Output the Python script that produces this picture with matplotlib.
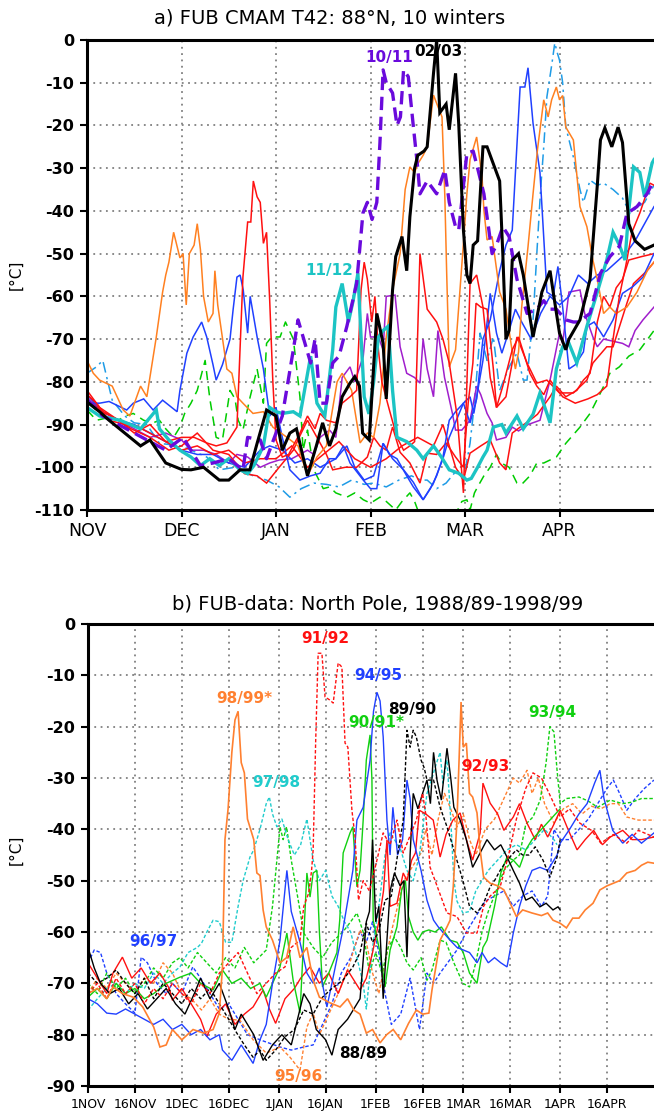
import matplotlib
matplotlib.use("Agg")
import matplotlib.pyplot as plt

# ================== 配置区 ==================
W, H = 654, 1114
plt.rcParams['font.family'] = ['DejaVu Sans']

GRID_KW = dict(color='#808080', linestyle=(0, (1, 2.5)), linewidth=1.3)

# ---------- panel a: CMAM model, day since 1 Nov (360-day calendar) ----------
a_months = ["NOV", "DEC", "JAN", "FEB", "MAR", "APR"]
a_month_days = [0, 30, 60, 90, 120, 150]

a_0203 = [(0, -84.7), (4, -87), (7, -89), (12, -92), (17, -95), (20, -93.6), (25, -99), (30, -100.5),
          (33, -100.6), (37, -100), (42, -103), (45, -103), (48.6, -100.6), (51.7, -100.6), (54, -94.4),
          (57, -86.6), (60, -88), (62, -96), (64.4, -92), (66.5, -91), (70, -102), (72.8, -95),
          (74.8, -89.6), (77, -95), (79, -91), (81, -83.5), (83.5, -80.3), (85, -78.8), (86.5, -81),
          (87.5, -92), (89.6, -93.6), (92, -64), (94, -71), (95, -84), (97, -58.5), (98, -50.7),
          (100, -46), (101.5, -54), (102.5, -41.4), (104, -30), (105, -27), (107, -26), (108, -25),
          (110, -7.8), (111, 0), (112, -17), (114, -15), (115, -21), (117, -7.8), (118, -19.5),
          (119.5, -44.5), (120.6, -55), (121.6, -57), (122.6, -48), (124, -47), (125.7, -25),
          (127, -25), (129, -29), (131, -33), (132, -50), (133, -70), (134, -68), (135, -51.5),
          (137, -50), (138.5, -55), (141.6, -69.5), (144.4, -59), (147, -54), (148, -59),
          (150, -68.6), (152, -72.5), (153, -70), (156.5, -65.5), (159.7, -56), (162, -34),
          (163, -23.4), (164.4, -20.6), (166.6, -25), (168.6, -20.4), (170, -24), (172, -43),
          (174, -47), (177, -49), (180, -48)]

a_1011 = [(0, -84), (5, -88), (10, -90), (15, -92), (20, -94), (25, -96), (30.5, -93), (33, -96),
          (36, -99.6), (40, -99), (45, -98), (49.5, -100.6), (51, -93), (55, -93.6), (57, -98),
          (62, -88), (65.5, -72.5), (67, -65.5), (68.6, -69.5), (71, -75.6), (72.4, -70), (74, -85),
          (76, -85), (78, -75.6), (80, -74), (82.5, -67), (85.6, -57), (87.6, -40.5), (89, -38),
          (90.5, -42), (92, -38), (93, -24), (94, -7), (95, -10), (97, -12.4), (98.4, -20),
          (99.5, -18), (100.5, -7), (102, -8.6), (103.5, -19.5), (105, -30), (105.7, -36),
          (108, -33), (111, -36), (113.6, -30.4), (115, -38), (117, -43.7), (118, -44.5),
          (120.6, -26.5), (122.6, -26), (124, -30), (126, -36), (128.6, -50), (130, -48),
          (132, -43.7), (134, -46), (136.5, -56), (139.7, -64), (142.8, -63), (145, -61),
          (147, -63), (149, -63), (152, -65.5), (154.4, -66), (156, -66), (159.7, -64),
          (163, -54.6), (166, -50.7), (169, -48.3), (171.4, -40.6), (174.6, -39), (177.8, -36),
          (180, -32.8)]

a_1112 = [(0, -86), (4, -88), (10.5, -89), (17, -91), (22, -86.6), (23, -91), (26, -93.6),
          (29.5, -96), (33, -97.6), (36, -99.6), (39, -98), (42, -99.6), (45, -98), (48.6, -100.6),
          (51, -101.5), (53, -99.6), (56, -95), (58, -86), (60, -87), (62, -87.4), (65.5, -87),
          (67.6, -88), (71, -74), (73, -85), (75.5, -88), (78, -72.5), (79, -62.5), (81, -57),
          (83, -66), (84.5, -61), (86, -54.6), (87, -69.5), (88, -83.5), (89.5, -87.5), (91, -80),
          (92.5, -69.5), (94, -68), (95.6, -67), (97, -82), (98.4, -93), (101.5, -94),
          (104.7, -96), (106.7, -98), (110, -95), (112.5, -97.6), (115, -100.6), (118, -101.4),
          (120.6, -103), (122, -102.6), (124, -100), (125.7, -97.6), (127, -96), (129, -90.6),
          (131.7, -90), (133, -92), (136.5, -88), (138.5, -91), (141.6, -87.6), (143.8, -82.6),
          (147, -89.6), (149, -77), (151, -71.8), (153, -71), (155.5, -75.6), (158.7, -67),
          (162, -59), (165, -51.5), (167, -45), (169, -48), (170.8, -51.5), (172, -39.8),
          (173.5, -29.7), (175.5, -31), (177, -36.7), (179.4, -28.8), (180, -28)]

a_orange = [(0, -75), (2, -78), (4, -79.6), (8, -81), (11.5, -86.6), (13.6, -88), (17, -81),
            (19, -83.5), (22, -69.5), (24, -59), (25, -55), (26, -52), (27.5, -45), (29.5, -51),
            (30.5, -50), (31.5, -62), (32.5, -50), (34, -48), (35, -43), (36, -49), (37, -60),
            (38.5, -66), (40, -64), (40.6, -54), (41.5, -62), (44.4, -77), (46, -78), (47.6, -83.5),
            (49.5, -85), (52.7, -87.4), (56, -87), (59, -90.6), (63.5, -93), (67, -95), (70, -102),
            (73, -97.6), (76, -95), (79.4, -80), (81, -78), (82.5, -80), (84, -82), (86.7, -94.3),
            (89, -92), (91, -93), (93, -85), (95, -69.5), (97, -58.5), (99.4, -50), (101, -35),
            (102.5, -29.7), (104, -31), (105, -29), (106.7, -27), (108, -25), (110, -12.9),
            (111.4, -15.6), (112.7, -18), (113.6, -36.7), (114.2, -55), (115, -76.5), (117, -72.5),
            (119.5, -47.6), (120.6, -36), (121.6, -28), (123.7, -22.7), (125.4, -32), (126, -39.8),
            (127, -46.8), (128.6, -46), (131, -59), (133, -63), (135, -73), (136, -77), (137, -73),
            (138, -62.5), (140, -48.4), (141.6, -36), (143, -25.7), (145, -14), (146.4, -18),
            (147.5, -14), (149, -11), (150, -14), (151, -13), (152, -20.4), (154.4, -23.4),
            (156.5, -39), (158.7, -43.7), (160.6, -51.5), (162, -56), (164, -64), (166, -62.5),
            (168, -64), (171.4, -62.5), (174.6, -59), (178, -53.8), (180, -52)]

a_red1 = [(0, -83), (3, -85), (7, -89), (12, -90), (16, -90.5), (20, -92), (25, -94), (30, -93),
          (34, -93), (38, -94.3), (41, -95), (44.4, -94.3), (47.6, -90.6), (49.5, -55.5),
          (51, -42.6), (52, -42.6), (52.8, -33), (54, -36.7), (55, -38), (56, -47.6), (57, -45),
          (58, -61), (59, -80), (60, -93.6), (62, -97.6), (64, -97), (67.6, -92), (70, -88),
          (72.4, -91), (74, -87.4), (76, -89), (79, -89.6), (81, -85), (83.5, -83.5), (85.6, -82),
          (87, -58.5), (88, -52), (89, -56), (90.4, -66), (91.4, -60), (92.5, -72.5), (93.6, -80),
          (96, -86.6), (98.4, -93), (100.5, -96), (102.5, -95), (104, -94), (105.7, -50),
          (108, -63), (111, -66), (113, -70), (115, -75.6), (117.5, -88), (119.5, -106),
          (121.6, -57), (123.7, -55), (125.7, -62.5), (128, -79), (130, -86), (132, -81),
          (135, -72.5), (137, -69.5), (138.5, -73), (140.6, -78), (142.8, -81), (145, -83),
          (147, -79.6), (151, -83.5), (155, -85), (159, -84), (162, -83), (165, -81), (167, -70),
          (169, -60), (171, -53), (173, -45), (175.5, -40.5), (178.7, -33.5), (180, -34)]

a_red2 = [(0, -82), (4, -86), (8, -88), (14, -91), (20, -93), (26, -96), (30, -95), (35, -92),
          (40, -96), (45, -97), (50, -101.5), (54, -102), (57, -103.7), (61, -100), (65.5, -96),
          (68, -92), (70, -89), (73, -93), (76, -97), (78, -100.6), (82, -100), (85.6, -100),
          (89, -97.6), (91, -93), (93, -95), (95, -96), (97, -90.6), (99.4, -96.5), (102.5, -99),
          (105.7, -103.7), (108, -96.7), (111, -97), (114, -94.3), (117, -97.6), (119.5, -100),
          (121, -85), (122.5, -75.6), (123.5, -61.6), (125, -62.5), (127, -63), (129, -77),
          (130, -86), (133, -83.5), (136.5, -69.5), (139.7, -75.6), (142.8, -80.3), (146, -79.6),
          (150, -82.6), (154.4, -82.6), (158.7, -79.6), (160.6, -75.6), (165, -71.8), (167, -71.8),
          (171.4, -61.6), (173.5, -57), (177.8, -54), (180, -52)]

a_red3 = [(0, -84), (5, -87), (10, -89), (15, -92), (20, -90), (25, -94), (30, -96), (35, -95),
          (40, -97), (45, -96), (50, -99), (55, -98), (60, -98), (65, -95), (70, -100), (75, -97),
          (80, -94), (85, -98), (90, -100), (95, -98), (100, -95), (105, -93), (110, -95),
          (113, -90), (117, -100), (119.5, -103), (121.6, -96.7), (125, -95), (128, -93.6),
          (131, -99), (133, -100.6), (135, -92), (137.5, -90.6), (140.6, -89), (143, -87.6),
          (147, -83.5), (149, -81), (152, -83.5), (155.5, -82), (157.6, -79.6), (159.7, -78),
          (162, -66), (164, -60), (166, -62.5), (168, -58), (170, -56), (172, -51.5),
          (176, -50.7), (180, -50)]

a_blue1 = [(0, -85), (4, -85), (7, -84.6), (12.6, -86.6), (14.7, -85), (18, -84), (21, -86.6),
           (24, -84.3), (28.6, -87), (29.5, -82), (31.7, -73.3), (33.7, -69.5), (36.4, -66),
           (38, -69.5), (40, -76), (41, -79.6), (43, -76), (45.4, -70), (46.4, -63), (47.6, -55.5),
           (48.6, -55), (49.6, -58.5), (51, -68.6), (51.8, -60), (54, -69.5), (56, -77), (58, -88),
           (60, -86), (62, -93), (64.4, -100.6), (67.6, -103), (71, -102), (74, -101.4), (77, -98),
           (79, -98), (81.4, -95), (83.5, -99), (87.7, -103), (90, -105), (92, -105), (94, -94.4),
           (96, -97), (98.4, -98), (101.5, -102), (103.6, -104.6), (106.7, -107.6), (109, -105),
           (111, -102), (113, -97.6), (115, -89), (117, -87), (119.5, -85), (121.6, -89.6),
           (123.7, -84), (125.7, -70), (128, -65.5), (131, -54), (133, -48), (135, -44.5),
           (137.5, -11), (139, -11), (140, -6.5), (141.6, -19.5), (143.8, -31), (146, -59),
           (148, -60), (149.5, -53), (151, -62.5), (153, -77), (155, -76), (157.6, -73),
           (158.7, -67), (161, -66), (164, -69.5), (167, -65.5), (170, -59.3), (173.3, -57.7),
           (176.5, -55.5), (180, -50)]

a_blue2 = [(0, -83), (5, -87), (10, -89), (15, -90), (20, -92), (25, -94), (30, -96), (35, -97),
           (40, -97), (45, -99), (50, -100), (55, -96), (58, -95), (62, -96), (66, -99), (70, -98),
           (74, -100), (79, -98), (82.5, -95), (85, -100), (88, -103), (91, -102), (94, -94.4),
           (97, -98), (100.5, -100.6), (103.6, -103.5), (106.7, -107.6), (110, -103.7), (113, -98),
           (115, -93), (119.5, -85), (121.6, -83.5), (122.8, -87.4), (125.7, -75), (128, -59.3),
           (130, -68.6), (131.7, -73.3), (134, -68), (136, -63), (138, -66), (141, -70), (144, -64),
           (147, -60), (150, -62), (153, -60), (156, -55), (159, -57), (162, -55), (165, -54),
           (168, -52), (171, -50), (174, -47), (177, -43), (180, -39)]

a_ltblue = [(0, -78), (3, -76.5), (5, -75), (8, -84.3), (12, -88), (15, -89.6), (19, -90),
            (23, -94.4), (30, -95), (38, -97.6), (42, -100.6), (47, -100), (52.8, -102), (57, -103),
            (61, -104.6), (64.4, -107), (68, -105), (72, -103.7), (76, -104), (80, -104.6),
            (84, -103), (88, -104), (91, -103.7), (95, -104.6), (99, -103), (103, -102), (106, -103),
            (108, -103), (111, -105), (114, -103.7), (117.5, -100.6), (119.5, -103), (121.6, -94.4),
            (123, -85), (124.8, -68.6), (127, -75), (129, -69.5), (131, -82), (134, -76.5),
            (136.5, -73.3), (138.5, -79.6), (139.7, -79.6), (140.6, -72), (141.6, -65.5),
            (142.8, -50), (144, -35), (145, -25), (146, -13.3), (147.6, -5.5), (148.5, -0.7),
            (149.3, -3), (150, -4.7), (151, -10), (152, -20.4), (154.4, -27.4), (156.5, -35),
            (157.6, -38), (159.7, -32.8), (162, -34), (164, -33.5), (167, -35), (170, -37),
            (172.4, -40.5), (175, -39), (177, -38), (180, -34)]

a_green = [(0, -86.6), (3, -89), (6, -88.5), (10, -89), (12, -88), (14.7, -87.4), (18, -89),
           (21, -89.6), (23, -89), (25, -91), (27.5, -93), (29.5, -90.6), (31, -87.4), (33, -85),
           (35, -82), (37.5, -75), (39, -84), (41, -93), (43, -93.6), (45.4, -82), (47, -84),
           (48, -89), (49.5, -91.3), (51.8, -83.5), (54, -77), (56, -85), (57, -71), (58.6, -69.5),
           (61.3, -69.5), (63, -66), (65.5, -70), (67.6, -83.5), (68.6, -96), (70, -91.3),
           (72, -100.6), (75, -105), (77, -104.6), (79, -106), (82.5, -107), (85, -106),
           (87.7, -107.6), (90, -108.4), (93, -107), (95, -108), (98, -110), (100, -108),
           (102.5, -106), (104, -108), (106, -112), (110, -115), (114, -113), (117, -111),
           (119, -108), (120.6, -107.6), (121.6, -110), (123, -106), (124, -104.6), (126, -102),
           (128, -100), (130, -97), (131.5, -99), (134, -100), (136.5, -103.7), (138, -104),
           (140.6, -102), (142.8, -99), (145, -99), (149, -97.6), (152, -94.4), (156.5, -90.6),
           (159.7, -87.4), (163, -82.6), (166, -78), (169, -76.5), (172, -74), (175.5, -72.5),
           (178, -70), (180, -68)]

a_violet = [(0, -83), (5, -87), (10, -89), (15, -91), (20, -93), (25, -92), (30, -93.6), (33, -96),
            (37, -96), (41, -97), (45, -99), (47.6, -97), (51, -97.6), (55, -100), (58, -99),
            (61, -98.3), (65, -98), (70, -96), (72, -97), (74, -93), (77, -91.3), (79, -93),
            (81, -79), (83.5, -76.5), (85, -80), (87.7, -74), (89, -64), (90, -69.5), (92.5, -69.5),
            (94, -72.5), (95, -60), (97.8, -59.7), (99.4, -71.8), (101.5, -78), (104, -79),
            (105.7, -80.3), (106.7, -70), (108, -77), (110, -83.5), (111.4, -68), (113.5, -79),
            (116, -87.4), (117, -91.3), (119, -91.3), (121.6, -89), (123.7, -81), (125, -83),
            (127, -87.4), (128.6, -89.6), (130, -93.6), (133, -93), (135, -90.6), (137, -91.5),
            (140, -90), (143.8, -89), (147, -79.6), (150, -68.6), (151, -71), (153, -59),
            (156.5, -58.5), (158, -64), (160.6, -69.5), (162, -71.8), (164, -70), (167, -70.5),
            (170, -71), (172, -71.8), (174, -68), (176.5, -65.5), (180, -62.5)]

# ---------- panel b: observations, day since 1 Nov ----------
b_tick_days = [0, 15, 30, 45, 61, 76, 92, 107, 120, 135, 151, 166]
b_tick_labels = ["1NOV", "16NOV", "1DEC", "16DEC", "1JAN", "16JAN", "1FEB", "16FEB",
                 "1MAR", "16MAR", "1APR", "16APR"]

b_8889 = [(0, -63), (2, -67), (4, -70), (7, -72), (10, -71), (13, -74), (16, -72), (19, -75),
          (22, -73), (25, -71), (28, -74), (31, -76), (34, -72), (36, -69), (39, -73), (42, -70),
          (45, -75), (47, -79), (49, -76), (51, -78), (53, -80), (56, -85), (59, -82), (62, -80),
          (65, -82), (67, -77), (69, -72), (71, -74), (73, -79), (76, -81), (78, -84), (80, -79),
          (83, -77), (85, -75), (87, -73), (89, -58), (90, -56), (91, -42), (92, -58), (93, -55),
          (94.4, -73), (96.6, -52), (98, -48.5), (99.8, -51), (101, -50), (102, -64.9), (103, -45),
          (104, -33), (105.5, -36), (107, -33), (108.4, -30.4), (109.5, -35), (110.5, -25),
          (111.6, -30.4), (113, -34.3), (114.8, -24.2), (116, -30), (117, -35.7), (119, -38.2),
          (121, -42), (123, -47.4), (125.4, -44.6), (127.6, -42), (130, -44), (132, -43),
          (134, -45.4), (136, -48), (138, -50.5), (140, -53.8), (142, -53.2), (144.5, -55.1),
          (146.5, -54.4), (148.7, -55.7), (150.3, -55.1), (151, -55.7)]

b_8990 = [(0, -68), (3, -70), (6, -69), (9, -67.4), (12, -70), (15, -72), (18, -69), (21, -73),
          (24, -70), (27, -72), (30, -74), (33, -71), (36, -73), (39, -71), (42, -74), (45, -77),
          (47.6, -79.7), (50, -82), (52.8, -84.4), (55, -83), (57, -85), (60, -83), (63, -80.4),
          (66, -79), (69, -75.2), (72, -76), (75, -72.7), (78, -71), (81.5, -69.4), (84.7, -66.8),
          (87, -64), (89, -58.3), (91, -62), (93, -60), (95, -53.8), (97, -53), (99, -45),
          (100.8, -38.2), (102, -20.7), (103, -24), (104, -20.7), (105, -22), (106.5, -26.5),
          (107.5, -28), (108.4, -30.4), (110.5, -30.4), (112.6, -35.7), (114.8, -39.5),
          (116.7, -43.4), (119.9, -50), (122, -55), (124.4, -56.3), (126.5, -54.4), (128.6, -51.2),
          (130, -50), (131.8, -48), (134, -46), (137, -44), (139, -45), (141, -45), (143, -43.4),
          (145.5, -46), (147.7, -49.3), (150, -45.4), (151, -42)]

b_9091 = [(0, -72.7), (3, -71), (6, -73), (9, -70), (12, -72), (15, -71), (18, -73), (21, -72),
          (25, -70), (29.4, -68.8), (33, -68), (36, -70), (40, -71.3), (43, -67.4), (46, -70),
          (49, -69), (52, -71), (55, -70), (57, -72.7), (61.4, -66.8), (63.6, -60.2), (65.6, -69.4),
          (67.8, -75.8), (70, -48.5), (71, -53.2), (72, -48.5), (73.2, -48), (74, -60), (75, -70.7),
          (77, -68), (79.6, -64), (80.5, -57.7), (81.6, -44.6), (83.8, -40.7), (84.7, -39.5),
          (86, -51.2), (87, -48), (88, -38.2), (89, -26.5), (90.2, -21.6), (90.8, -30.4),
          (91.2, -57.7), (93.4, -64), (95, -70.7), (96.6, -63.5), (98.8, -59), (100.3, -51.8),
          (101.5, -50), (102.5, -57), (104, -60), (105.5, -61.6), (107, -60), (109, -59.6),
          (111, -60), (113, -59), (115.8, -61.6), (118, -62), (120, -64), (122, -68), (124.4, -70),
          (126.3, -63), (127.6, -61.6), (130, -55), (132, -48.5), (134, -45.4), (136, -46),
          (138, -47.4), (140, -44), (142, -42), (145, -40), (148, -38), (151, -36)]

b_9192 = [(0, -72), (3, -70), (6, -73), (9, -69), (12, -72), (15, -70), (18, -74), (21, -71),
          (24, -73), (27, -70), (30, -72), (33, -74), (36, -70), (39, -72), (42, -68), (45, -66),
          (48, -64), (51, -68), (54, -72), (57, -70), (60, -68), (63, -66.8), (65, -63),
          (67.8, -61.6), (69, -55), (70.6, -52.4), (71.5, -48), (72, -44), (72.8, -23),
          (73.6, -5.7), (74.8, -5.7), (75.8, -14.2), (77.3, -14.8), (78.4, -15.4), (80, -7.6),
          (81.2, -8.4), (82.2, -23.2), (83.1, -24), (84.4, -36.3), (85.4, -41.5), (86.5, -53.8),
          (88, -50), (90, -52), (92.4, -46), (94.4, -40.7), (96.6, -43), (98.8, -38.2),
          (100.8, -44.6), (102.5, -42), (105, -38.2), (107, -33), (108, -37), (109.4, -47.4),
          (111, -50), (114.8, -56.3), (118, -57), (121, -60.2), (124.4, -60.2), (126.5, -55),
          (128.6, -53), (131.8, -51.2), (134.5, -45), (137, -38), (140, -32), (142.3, -29),
          (145, -30), (147, -32.4), (151, -37.6), (154, -36), (157.3, -38.8), (161, -40.2),
          (164, -42.7), (168, -41), (172.3, -42.7), (176, -40.2), (181, -41.5)]

b_9293 = [(0, -66), (3, -69), (6, -72), (8, -68), (11, -64.9), (14, -69), (17, -67), (20, -70),
          (23, -68), (26, -71), (27, -73.3), (30, -71), (33, -74), (36, -77), (38, -80.4),
          (41, -76), (44, -74), (47, -78), (50, -76), (52.8, -74.6), (56, -71.3), (58, -75),
          (60, -77.8), (63, -73), (66, -71), (68, -69), (71, -66.8), (74, -70), (77, -68),
          (80, -72), (83, -67.4), (87, -71.3), (89, -69), (91, -64), (93, -58), (94.5, -52),
          (95.6, -42), (96.6, -55), (98.8, -54.4), (100.8, -48.5), (102, -50), (103.5, -46),
          (104.7, -44.6), (106, -36.3), (108, -37), (110.4, -38.2), (112.6, -45.4), (114.5, -41),
          (116.7, -38.2), (119, -36.8), (121, -42), (123, -46), (125.4, -40.7), (126.3, -31),
          (128.6, -34.9), (131, -37), (133, -40.2), (136, -37.6), (138, -35), (140.4, -38.8),
          (143, -42), (145, -39), (147, -41.5), (149, -39), (151, -36.3), (153.5, -40),
          (156.4, -44), (159, -42), (161.7, -40.2), (164.5, -43), (167, -41.5), (171, -40.2),
          (174, -42), (177, -42), (181, -41.5)]

b_9394 = [(0, -70), (3, -72), (6, -68), (9, -71), (12, -69), (15, -72), (18, -70), (21, -67),
          (24, -69), (27, -66), (29.4, -65), (32, -67), (35, -64), (38, -66), (41, -68), (44, -65),
          (47, -67), (50, -63), (53, -66), (57, -63.5), (59, -55), (60.4, -46), (61.4, -39.5),
          (62.4, -42), (63.5, -39.5), (65, -46), (67, -53), (69, -60.2), (72, -63), (75, -65),
          (78, -62), (81.5, -60), (84, -58), (86, -56.3), (88, -60), (90, -68), (92, -64),
          (94, -68), (96, -63), (98, -61), (100, -63), (102, -66), (104, -67.4), (106.5, -65),
          (108.4, -69.4), (110, -67.4), (112.6, -61.6), (114.5, -62), (117, -66), (119.9, -70),
          (122, -70.7), (124, -66), (126, -60), (128, -56), (130.5, -52), (133, -48), (136, -46),
          (138, -45), (140, -39), (142.3, -37.6), (144.6, -34.3), (146.5, -27), (147.7, -20),
          (149, -21), (150, -28.5), (151, -35), (153, -34), (157, -33.7), (160, -34.5),
          (163, -35.7), (167, -34.3), (171, -35), (174, -34.7), (177, -34), (181, -34)]

b_9495 = [(0, -73), (3, -74), (6, -75.8), (9, -76), (12, -75), (15, -76), (18, -77), (21, -78),
          (24, -77), (27, -79), (30, -78), (33, -80), (36, -79), (39, -81), (42, -80), (43, -83),
          (46, -85), (49, -82), (52.8, -85.6), (55, -81), (57, -78), (59, -70), (61.4, -61.6),
          (63.6, -48), (65, -56), (67.8, -62), (70, -68), (72, -70), (74, -67), (76.4, -74.6),
          (78, -70), (81.5, -59.6), (84.7, -48), (86, -38.2), (88, -35.7), (90.2, -26.5),
          (91.3, -17), (92.4, -13.3), (93.4, -15), (94.4, -22), (95.6, -38.2), (96.6, -45),
          (97.5, -35.7), (99, -45), (100.6, -42), (102, -30.4), (103, -34), (104, -42),
          (106.5, -48), (108.4, -53.8), (110.5, -57.7), (112, -59), (115.8, -61.6), (118, -63),
          (122, -64), (124.4, -66), (126, -64), (128, -66), (130, -65), (132, -66), (134, -66.8),
          (136, -60.2), (138, -55), (140, -51), (142, -48), (144.5, -47.4), (147, -48), (150, -45),
          (151, -42.7), (154, -40), (157, -37), (159.6, -35), (162, -31), (163.7, -28.5),
          (165, -34), (167.8, -40.2), (171, -42.7), (174, -41), (177, -42.7), (181, -40.7)]

b_9596 = [(0, -72), (3, -69), (6, -71), (9, -68), (12, -70), (15, -72), (18, -69), (21, -70),
          (24, -66), (27, -68), (30, -72), (33, -73), (36.3, -75.2), (39, -73), (42, -76),
          (45, -77), (48.6, -77.2), (52.8, -81), (57, -83.6), (61.4, -82.4), (64.6, -84.4),
          (67.8, -86.9), (70, -78.5), (72, -75.8), (74, -80), (77, -76), (80, -72), (83, -67.4),
          (87, -59.6), (89, -62), (91, -68), (93, -72), (95, -66), (97, -60), (99, -55), (101, -50),
          (103, -48), (106.5, -44.6), (108, -40), (110, -45), (112, -38), (114, -33), (116, -36),
          (118, -39.5), (120, -37), (122, -42), (124, -45), (127, -40), (130, -38), (133, -34),
          (136, -30), (138, -31), (140.4, -28.5), (142, -33), (144, -30), (146, -35),
          (149, -38.8), (152, -36), (155, -35), (158, -37), (161, -35.5), (164, -36), (167, -35),
          (169.6, -35), (172.3, -37.6), (176, -38.2), (181, -38.2)]

b_9697 = [(0, -66), (2, -63.5), (4, -64), (6, -68), (9, -72), (12, -74), (15, -75.8), (17, -64.9),
          (19, -66), (22, -70), (25, -72), (27, -70), (30, -72), (33.5, -66.8), (36, -69), (39, -72),
          (42, -75), (45, -74), (48, -77), (51, -80), (55, -81), (61.4, -82.4), (65, -83),
          (69, -82.4), (72, -82), (75, -78), (78, -74), (81, -68), (84, -65), (87, -60), (89, -62),
          (91, -58), (93, -64), (95, -72), (97, -78), (100, -76), (103, -69), (106, -79),
          (108.4, -68), (110.5, -70), (112.6, -68), (115, -66), (118, -63.5), (121, -60),
          (124, -57), (127, -54), (130, -53), (133, -52), (136, -55), (139, -53), (142, -52),
          (145, -55), (147, -53), (149, -40), (151, -42), (154, -42), (157, -40), (160, -38),
          (163, -35), (166, -32), (168, -30.4), (170, -33), (172.3, -36.3), (175, -34), (178, -32),
          (181, -30.4)]

b_9798 = [(0, -75.2), (3, -73), (6, -71), (9, -70), (12, -72), (15, -70), (18, -71), (21, -68),
          (24, -70), (27, -68), (29.4, -66.8), (32, -64), (35, -63), (36.3, -62.2), (38, -60),
          (40, -57.7), (42, -58), (44, -62), (46, -62), (48, -55), (49.6, -50), (51.8, -45.4),
          (53, -44), (55, -40), (57, -35), (58, -33.7), (59, -37), (60.4, -39.5), (62, -38),
          (64, -42), (66, -45), (68, -43), (70, -38), (72, -46), (74, -50), (76, -48), (78, -53),
          (80, -55), (82, -58), (84, -60), (86, -65), (88, -70), (89, -75), (91, -63), (93, -55),
          (95, -45), (96.6, -40.7), (98, -42), (100, -44), (102, -48), (104, -50), (106, -45),
          (108.4, -33), (110, -30), (111.5, -27), (112.6, -25), (113.5, -31), (114.8, -26.5),
          (116, -38), (117, -50), (118, -54), (119.9, -56.3), (122, -56), (124, -52), (126, -50),
          (128, -48), (131, -46), (134, -44), (137, -43), (140, -44), (143, -42), (146, -40),
          (149, -42), (150, -43)]

b_9899 = [(0, -72), (3, -71), (6, -73), (8, -70.7), (11, -72), (14.5, -72.7), (17.5, -74.6),
          (21, -78.5), (23, -82.4), (25, -82), (27, -79), (30, -81), (33.6, -79), (37, -79.7),
          (40, -79), (42, -75.8), (43, -66.8), (43.8, -42), (44.8, -36), (46, -25), (47, -18.7),
          (48, -17), (49, -27), (50, -29), (51, -38), (52, -40), (53, -42), (54, -48.5), (55, -49),
          (56, -55.7), (57, -59), (59, -61.6), (61.4, -66), (63.5, -65), (65.6, -59), (67.8, -65),
          (70, -63), (72, -69.4), (74, -72.7), (77.4, -73.8), (80.6, -74.6), (83, -73),
          (85, -75.2), (87, -76), (89, -79.7), (91, -79), (93.4, -81.6), (95.5, -80), (97.6, -79),
          (100, -81), (102.5, -77.8), (105, -75.2), (107, -76), (109, -75.8), (110, -71.3),
          (111.6, -65.5), (112.6, -61.6), (114.8, -59), (115.8, -57.7), (116.8, -51.2),
          (118, -38.2), (119.3, -15.2), (120, -24), (121, -23.2), (122, -33), (123, -33.7),
          (124.4, -36.8), (125.4, -44), (126.5, -49.3), (128.6, -50.5), (131, -51), (133, -51.8),
          (135, -54.4), (137, -57), (139, -55.7), (142, -56.3), (145, -56.8), (147, -56.3),
          (148.7, -57.7), (151, -58.3), (153, -59.2), (155, -57.3), (157, -57.3), (159, -55.7),
          (161.5, -54.4), (163.7, -51.8), (166, -51), (168, -50.5), (170, -50), (172.3, -48.5),
          (175, -48), (177, -47), (179, -46.4), (181, -46.6)]


# ================== 辅助函数 ==================
def plot_series(ax, pts, **kw):
    xs = [p[0] for p in pts]
    ys = [p[1] for p in pts]
    ax.plot(xs, ys, solid_joinstyle='miter', **kw)


def style_axes(ax, ymin):
    for side in ("left", "top", "bottom"):
        ax.spines[side].set_linewidth(2.2)
        ax.spines[side].set_color("black")
    ax.spines["right"].set_visible(False)
    ax.set_ylim(ymin, 0)
    ax.set_yticks(range(ymin, 1, 10))
    ax.set_yticklabels([str(v) for v in range(ymin, 1, 10)], fontsize=11.5, fontweight="bold")
    ax.tick_params(axis="y", length=5, width=1.5, direction="out", pad=4)
    ax.tick_params(axis="x", length=5, width=1.5, direction="out")
    ax.set_axisbelow(True)


# ================== 主程序 ==================
fig = plt.figure(figsize=(W / 100, H / 100), dpi=100)

# ---------- panel a ----------
ax1 = fig.add_axes([87 / W, 1 - 510 / H, 1 - 87 / W, 470 / H])
style_axes(ax1, -110)
ax1.set_xlim(0, 180)
ax1.set_xticks(a_month_days)
ax1.set_xticklabels(a_months, fontsize=12.5)
for v in range(-100, 0, 10):
    ax1.axhline(v, **GRID_KW, zorder=0)
for d in a_month_days[1:]:
    ax1.axvline(d, **GRID_KW, zorder=0)

thin = 1.1
plot_series(ax1, a_green, color="#00cc00", lw=thin, dashes=(6, 4))
plot_series(ax1, a_ltblue, color="#1e9be6", lw=thin, dashes=(7, 3, 1.5, 3))
plot_series(ax1, a_violet, color="#a01ecc", lw=thin)
plot_series(ax1, a_blue2, color="#2040ff", lw=thin)
plot_series(ax1, a_red3, color="#ff1010", lw=thin)
plot_series(ax1, a_red2, color="#ff1010", lw=thin)
plot_series(ax1, a_blue1, color="#2040ff", lw=thin)
plot_series(ax1, a_orange, color="#ff8020", lw=thin)
plot_series(ax1, a_red1, color="#ff1010", lw=thin)
plot_series(ax1, a_1112, color="#1cc4c4", lw=2.4)
plot_series(ax1, a_1011, color="#6a0adc", lw=2.4, dashes=(4, 2))
plot_series(ax1, a_0203, color="black", lw=2.2)

lab_kw = dict(fontsize=11, fontweight="bold", ha="center", va="center")
ax1.text(95.9, -4.1, "10/11", color="#6a0adc", **lab_kw)
ax1.text(111.7, -2.7, "02/03", color="black", **lab_kw)
ax1.text(76.8, -54, "11/12", color="#1cc4c4", **lab_kw)

# ---------- panel b ----------
ax2 = fig.add_axes([88 / W, 1 - 1086 / H, 1 - 88 / W, 462 / H])
style_axes(ax2, -90)
ax2.set_xlim(0, 181)
ax2.set_xticks(b_tick_days)
ax2.set_xticklabels(b_tick_labels, fontsize=9)
for v in range(-80, 0, 10):
    ax2.axhline(v, **GRID_KW, zorder=0)
for d in b_tick_days[1:]:
    ax2.axvline(d, **GRID_KW, zorder=0)

dot = (2.5, 1.5)
plot_series(ax2, b_9697, color="#2040ff", lw=1, dashes=dot)
plot_series(ax2, b_9596, color="#ff8030", lw=1, dashes=dot)
plot_series(ax2, b_9394, color="#10d010", lw=1, dashes=dot)
plot_series(ax2, b_9798, color="#20cccc", lw=1, dashes=dot)
plot_series(ax2, b_9293, color="#ff1010", lw=1)
plot_series(ax2, b_9091, color="#10d010", lw=1)
plot_series(ax2, b_9495, color="#2040ff", lw=1)
plot_series(ax2, b_8990, color="black", lw=1, dashes=dot)
plot_series(ax2, b_8889, color="black", lw=1)
plot_series(ax2, b_9192, color="#ff1010", lw=1, dashes=dot)
plot_series(ax2, b_9899, color="#ff8030", lw=1.2)

ax2.text(75.8, -2.9, "91/92", color="#ff1010", **lab_kw)
ax2.text(49.9, -14.6, "98/99*", color="#ff8030", **lab_kw)
ax2.text(60.1, -30.8, "97/98", color="#20cccc", **lab_kw)
ax2.text(92.7, -10.1, "94/95", color="#2040ff", **lab_kw)
ax2.text(92.1, -19.1, "90/91*", color="#10d010", **lab_kw)
ax2.text(103.6, -16.6, "89/90", color="black", **lab_kw)
ax2.text(127, -27.7, "92/93", color="#ff1010", **lab_kw)
ax2.text(148.4, -17.3, "93/94", color="#10d010", **lab_kw)
ax2.text(20.8, -61.8, "96/97", color="#2040ff", **lab_kw)
ax2.text(87.9, -83.6, "88/89", color="black", **lab_kw)
ax2.text(67.2, -88.1, "95/96", color="#ff8030", **lab_kw)

# ---------- titles / axis labels ----------
fig.text(330 / W, 1 - 18 / H, "a) FUB CMAM T42: 88°N, 10 winters", fontsize=14, ha="center", va="center")
fig.text(378 / W, 1 - 604 / H, "b) FUB-data: North Pole, 1988/89-1998/99", fontsize=14, ha="center", va="center")
fig.text(16 / W, 1 - 275 / H, "[°C]", fontsize=11, rotation=90, ha="center", va="center")
fig.text(16 / W, 1 - 850 / H, "[°C]", fontsize=11, rotation=90, ha="center", va="center")

fig.savefig("out.png", dpi=100)
plt.close(fig)
